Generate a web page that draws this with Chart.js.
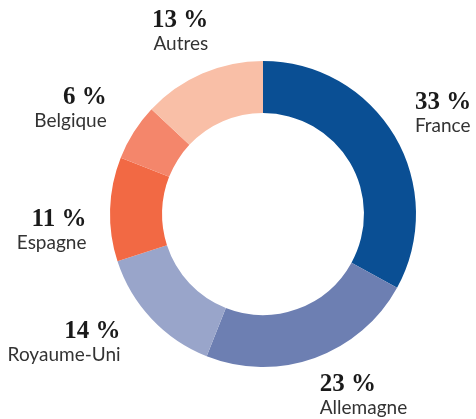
<!DOCTYPE html>
<html>
<head>
<meta charset="utf-8">
<script src="https://cdn.jsdelivr.net/npm/chart.js@4"></script>
<style>
  html, body { margin: 0; padding: 0; background: #fff; }
  #wrap { width: 476px; height: 419px; position: relative; }
</style>
</head>
<body>
<div id="wrap"><canvas id="donut"></canvas></div>
<script>
const countries = ["France", "Allemagne", "Royaume-Uni", "Espagne", "Belgique", "Autres"];
const shares = [33, 23, 14, 11, 6, 13];
const sliceColors = ["#0a4f94", "#6d7fb2", "#99a5ca", "#f26944", "#f4866b", "#f9bfa7"];

// labels sit outside the ring, pushed out along each slice's middle angle,
// with a small hand nudge per label to follow the original layout
const outsideLabels = {
  id: "outsideLabels",
  afterDatasetsDraw(chart) {
    const ctx = chart.ctx;
    const meta = chart.getDatasetMeta(0);
    const numFont = "bold 25px 'Liberation Serif', serif";
    const txtFont = "19px Lato, sans-serif";
    const pad = 18;
    const h = 41;
    const nudge = [[3, 2], [31, -13], [-34, -28], [-5, 21], [-13, 6], [-3, 0]];

    meta.data.forEach((arc, i) => {
      const { x, y, startAngle, endAngle, outerRadius } =
        arc.getProps(["x", "y", "startAngle", "endAngle", "outerRadius"], true);
      const mid = (startAngle + endAngle) / 2;
      const dx = Math.cos(mid);
      const dy = Math.sin(mid);

      const numText = shares[i] + " %";
      ctx.font = numFont;
      const w1 = ctx.measureText(numText).width;
      ctx.font = txtFont;
      const w2 = ctx.measureText(countries[i]).width;
      const w = Math.max(w1, w2);

      const extent = Math.abs(dx) * w / 2 + Math.abs(dy) * h / 2;
      const dist = outerRadius + pad + extent;
      const cx = x + dx * dist + nudge[i][0];
      const cy = y + dy * dist + nudge[i][1];
      const top = cy - h / 2;

      ctx.save();
      ctx.textBaseline = "alphabetic";
      let tx;
      if (dx < 0) {
        ctx.textAlign = "right";
        tx = cx + w / 2;
      } else {
        ctx.textAlign = "left";
        tx = cx - w / 2;
      }
      ctx.fillStyle = "#1a1a1a";
      ctx.font = numFont;
      ctx.fillText(numText, tx, top + 18);
      ctx.fillStyle = "#333";
      ctx.font = txtFont;
      ctx.fillText(countries[i], tx, top + 41);
      ctx.restore();
    });
  },
};

new Chart(document.getElementById("donut"), {
  type: "doughnut",
  data: {
    labels: countries,
    datasets: [
      {
        data: shares,
        backgroundColor: sliceColors,
        borderWidth: 0,
      },
    ],
  },
  options: {
    responsive: true,
    maintainAspectRatio: false,
    animation: false,
    cutout: "66%",
    layout: {
      padding: { top: 61, bottom: 52, left: 110, right: 60 },
    },
    plugins: {
      legend: { display: false },
      tooltip: { enabled: false },
    },
  },
  plugins: [outsideLabels],
});
</script>
</body>
</html>
